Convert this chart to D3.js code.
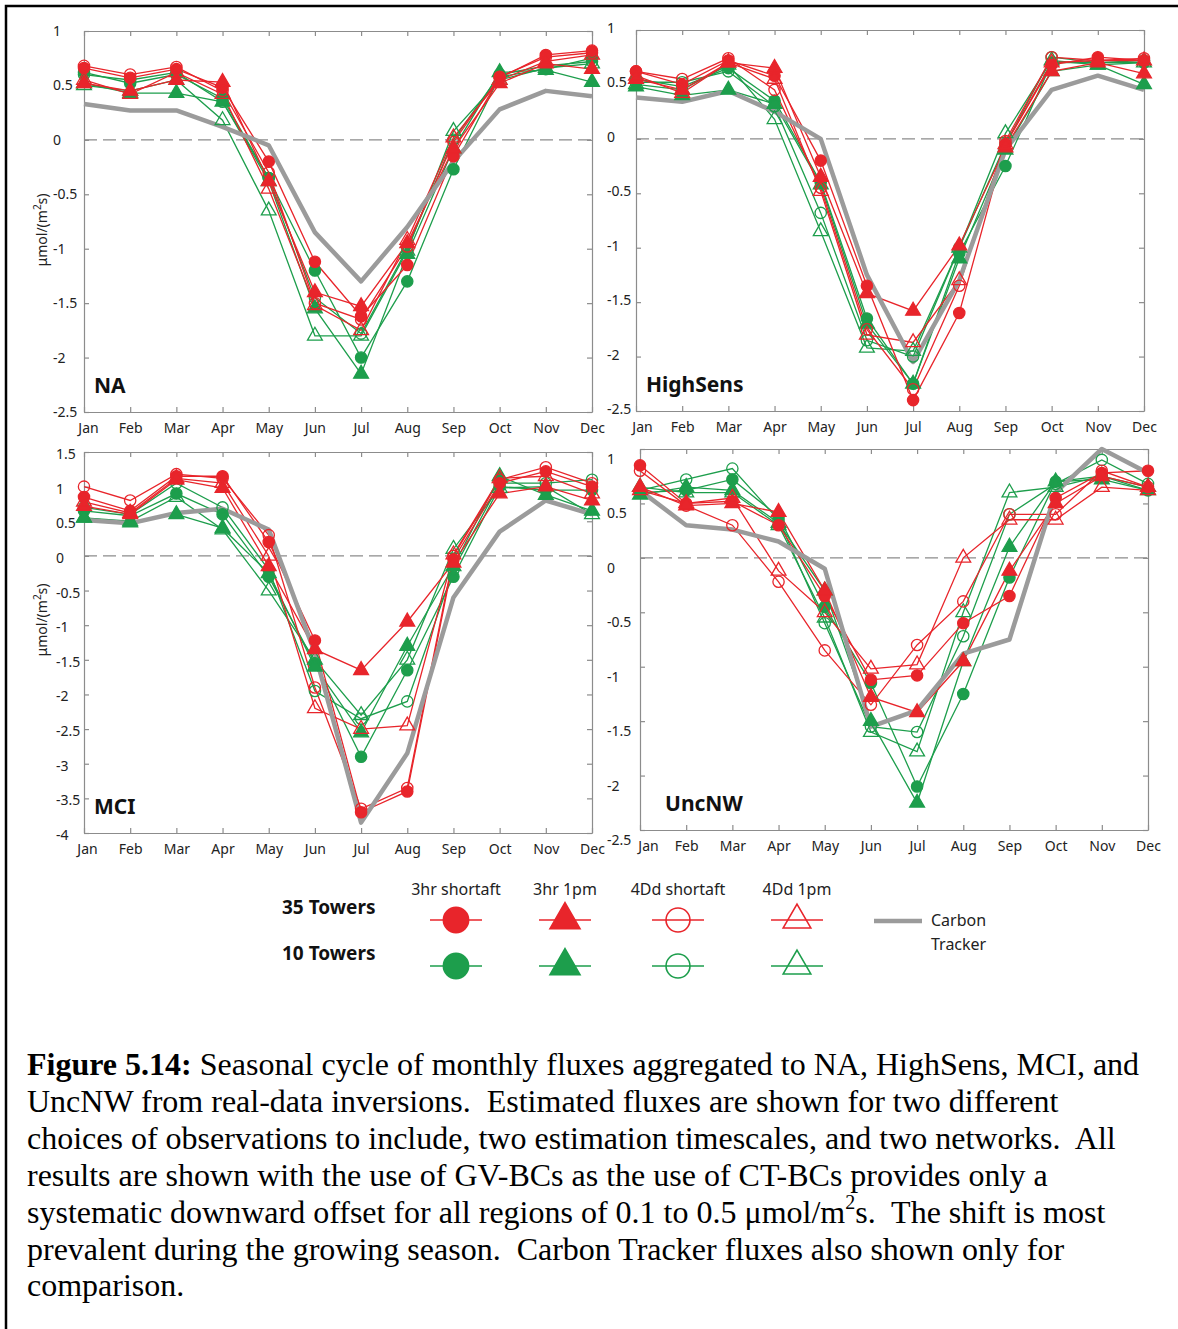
<!DOCTYPE html>
<meta charset="utf-8">
<style>
body { margin: 0; background: #fff; }
svg { display: block; }
.axis path, .axis line { stroke: #8c8c8c; stroke-width: 1.2px; }
.axis text { font: 14px "Noto Sans", sans-serif; fill: #222; }
.plabel { font: bold 21px "Noto Sans", sans-serif; fill: #111; }
.ytitle { font: 14px "Noto Sans", sans-serif; fill: #222; }
.leg { font: 16px "Noto Sans", sans-serif; fill: #222; }
.legb { font: bold 19px "Noto Sans", sans-serif; fill: #111; }
.cap { font: 32px "Liberation Serif", "Times New Roman", serif; fill: #000; }
</style>
<svg width="1178" height="1329"></svg>
<script src="https://d3js.org/d3.v7.min.js"></script>
<script>

var months = ["Jan","Feb","Mar","Apr","May","Jun","Jul","Aug","Sep","Oct","Nov","Dec"];
var methods = ["3hr shortaft","3hr 1pm","4Dd shortaft","4Dd 1pm"];
var networks = ["35 Towers","10 Towers"];

// NA
var na35_3hrShort = [0.66,0.57,0.65,0.48,-0.20,-1.12,-1.62,-1.15,-0.15,0.57,0.78,0.82];
var na35_3hr1pm   = [0.52,0.45,0.55,0.53,-0.38,-1.40,-1.53,-0.95,-0.08,0.52,0.70,0.65];
var na35_4DdShort = [0.68,0.60,0.67,0.45,-0.30,-1.50,-1.65,-0.98,-0.02,0.58,0.76,0.80];
var na35_4Dd1pm   = [0.55,0.42,0.62,0.42,-0.45,-1.52,-1.75,-0.92,0.02,0.55,0.72,0.78];
var na10_3hrShort = [0.62,0.52,0.60,0.38,-0.35,-1.20,-2.00,-1.30,-0.27,0.58,0.65,0.75];
var na10_3hr1pm   = [0.52,0.43,0.43,0.35,-0.38,-1.55,-2.15,-1.05,-0.08,0.62,0.64,0.53];
var na10_4DdShort = [0.60,0.55,0.62,0.35,-0.35,-1.45,-1.78,-1.00,0.00,0.60,0.68,0.72];
var na10_4Dd1pm   = [0.50,0.45,0.55,0.18,-0.65,-1.80,-1.80,-1.02,0.08,0.55,0.66,0.70];
var naCT          = [0.33,0.27,0.27,0.12,-0.05,-0.85,-1.30,-0.80,-0.20,0.28,0.45,0.40];

// HighSens
var hs35_3hrShort = [0.62,0.50,0.72,0.58,-0.20,-1.35,-2.40,-1.60,-0.05,0.68,0.75,0.72];
var hs35_3hr1pm   = [0.55,0.45,0.70,0.65,-0.35,-1.42,-1.58,-0.98,-0.08,0.62,0.70,0.60];
var hs35_4DdShort = [0.62,0.55,0.74,0.45,-0.45,-1.75,-2.30,-1.35,-0.02,0.75,0.72,0.74];
var hs35_4Dd1pm   = [0.58,0.42,0.70,0.55,-0.48,-1.80,-1.87,-1.30,-0.05,0.70,0.72,0.72];
var hs10_3hrShort = [0.55,0.48,0.65,0.35,-0.40,-1.65,-2.25,-1.05,-0.25,0.70,0.70,0.70];
var hs10_3hr1pm   = [0.48,0.40,0.45,0.32,-0.42,-1.70,-2.25,-1.10,-0.10,0.62,0.68,0.50];
var hs10_4DdShort = [0.52,0.52,0.62,0.30,-0.68,-1.85,-2.00,-1.00,-0.05,0.75,0.70,0.72];
var hs10_4Dd1pm   = [0.50,0.45,0.68,0.18,-0.85,-1.92,-1.95,-1.00,0.05,0.72,0.68,0.70];
var hsCT          = [0.38,0.34,0.44,0.25,0.00,-1.25,-2.05,-1.30,-0.10,0.45,0.58,0.45];

// MCI
var mci35_3hrShort = [0.85,0.65,1.15,1.15,0.20,-1.22,-3.70,-3.40,-0.05,1.05,1.22,1.00];
var mci35_3hr1pm   = [0.72,0.60,1.10,0.98,-0.15,-1.35,-1.65,-0.95,-0.10,0.90,1.00,0.80];
var mci35_4DdShort = [1.00,0.80,1.18,1.12,0.30,-1.90,-3.65,-3.35,0.00,1.10,1.28,1.05];
var mci35_4Dd1pm   = [0.78,0.62,1.12,1.05,0.00,-2.20,-2.50,-2.45,0.02,1.12,1.15,0.90];
var mci10_3hrShort = [0.65,0.58,0.90,0.60,-0.30,-1.55,-2.90,-1.65,-0.30,1.00,0.95,0.95];
var mci10_3hr1pm   = [0.55,0.48,0.60,0.40,-0.25,-1.60,-2.55,-1.30,-0.15,1.15,0.88,0.65];
var mci10_4DdShort = [0.70,0.60,1.05,0.70,-0.20,-1.95,-2.35,-2.10,-0.20,1.05,1.05,1.10];
var mci10_4Dd1pm   = [0.55,0.50,0.85,0.38,-0.50,-1.50,-2.30,-1.50,0.10,0.98,1.00,0.60];
var mciCT          = [0.52,0.47,0.62,0.68,0.38,-1.40,-3.85,-2.85,-0.60,0.35,0.80,0.60];

// UncNW
var unc35_3hrShort = [0.85,0.50,0.52,0.30,-0.35,-1.12,-1.08,-0.60,-0.35,0.55,0.78,0.80];
var unc35_3hr1pm   = [0.65,0.48,0.50,0.42,-0.30,-1.28,-1.42,-0.95,-0.12,0.50,0.75,0.65];
var unc35_4DdShort = [0.80,0.48,0.30,-0.22,-0.85,-1.35,-0.80,-0.40,0.40,0.40,0.80,0.65];
var unc35_4Dd1pm   = [0.62,0.50,0.55,-0.12,-0.50,-1.02,-0.98,0.00,0.35,0.35,0.65,0.62];
var unc10_3hrShort = [0.60,0.62,0.72,0.38,-0.45,-1.15,-2.10,-1.25,-0.18,0.70,0.75,0.62];
var unc10_3hr1pm   = [0.58,0.65,0.62,0.32,-0.30,-1.50,-2.25,-0.95,0.10,0.70,0.72,0.62];
var unc10_4DdShort = [0.62,0.72,0.82,0.35,-0.60,-1.55,-1.60,-0.72,0.40,0.68,0.90,0.68];
var unc10_4Dd1pm   = [0.65,0.60,0.60,0.30,-0.55,-1.60,-1.78,-0.50,0.60,0.65,0.75,0.65];
var uncCT          = [0.62,0.30,0.26,0.15,-0.10,-1.55,-1.40,-0.88,-0.75,0.60,1.00,0.78];

var red = "#e8252b", green = "#1d9e4c", gray = "#9b9b9b";
var netColor = [red, green];
var shapes = [d3.symbolCircle, d3.symbolTriangle, d3.symbolCircle, d3.symbolTriangle];
var filled = [true, true, false, false];

var panels = [
  {name: "NA", l: 84, r: 592, t: 31, b: 412, domain: [-2.5, 1], nameX: 10, labelX: -31, labelDy: 0, janDx: 4, title: 230,
   s35: [na35_3hrShort, na35_3hr1pm, na35_4DdShort, na35_4Dd1pm],
   s10: [na10_3hrShort, na10_3hr1pm, na10_4DdShort, na10_4Dd1pm], ct: naCT},
  {name: "HighSens", l: 636, r: 1144, t: 30, b: 411, domain: [-2.5, 1], nameX: 10, labelX: -29, labelDy: -2, janDx: 6,
   s35: [hs35_3hrShort, hs35_3hr1pm, hs35_4DdShort, hs35_4Dd1pm],
   s10: [hs10_3hrShort, hs10_3hr1pm, hs10_4DdShort, hs10_4Dd1pm], ct: hsCT},
  {name: "MCI", l: 84, r: 592, t: 452, b: 833, domain: [-4, 1.5], nameX: 10, labelX: -28, labelDy: 2, janDx: 3, title: 620,
   s35: [mci35_3hrShort, mci35_3hr1pm, mci35_4DdShort, mci35_4Dd1pm],
   s10: [mci10_3hrShort, mci10_3hr1pm, mci10_4DdShort, mci10_4Dd1pm], ct: mciCT},
  {name: "UncNW", l: 640, r: 1148, t: 449, b: 830, domain: [-2.5, 1], nameX: 25, labelX: -33, labelDy: 10, janDx: 8,
   s35: [unc35_3hrShort, unc35_3hr1pm, unc35_4DdShort, unc35_4Dd1pm],
   s10: [unc10_3hrShort, unc10_3hr1pm, unc10_4DdShort, unc10_4Dd1pm], ct: uncCT}
];

var svg = d3.select("svg");

// figure frame (top and left edge)
svg.append("path").attr("d", "M6,1329V6H1178").attr("fill", "none")
  .attr("stroke", "#000").attr("stroke-width", 2.5);

panels.forEach(function(p) {
  var g = svg.append("g");
  var x = d3.scalePoint().domain(months).range([p.l, p.r]);
  var y = d3.scaleLinear().domain(p.domain).range([p.b, p.t]);
  var yticks = d3.range(p.domain[0], p.domain[1] + 0.01, 0.5);

  g.append("g").attr("class", "axis").attr("transform", "translate(0," + p.b + ")")
    .call(d3.axisBottom(x).tickSizeInner(-5).tickSizeOuter(0).tickPadding(11))
    .selectAll("text").filter(function(d) { return d === "Jan"; }).attr("x", p.janDx);
  g.append("g").attr("class", "axis").attr("transform", "translate(0," + p.t + ")")
    .call(d3.axisTop(x).tickSizeInner(-5).tickSizeOuter(0).tickFormat(""));
  g.append("g").attr("class", "axis").attr("transform", "translate(" + p.r + ",0)")
    .call(d3.axisRight(y).tickValues(yticks).tickSizeInner(-5).tickSizeOuter(0).tickFormat(""));
  g.append("g").attr("class", "axis").attr("transform", "translate(" + p.l + ",0)")
    .call(d3.axisLeft(y).tickValues(yticks).tickSizeInner(-5).tickSizeOuter(0)
      .tickFormat(function(d) { return String(d); }))
    .selectAll("text").attr("x", p.labelX).attr("y", p.labelDy).attr("text-anchor", "start");

  // zero line
  g.append("line").attr("x1", p.l).attr("x2", p.r).attr("y1", y(0)).attr("y2", y(0))
    .attr("stroke", "#8c8c8c").attr("stroke-width", 1.3).attr("stroke-dasharray", "13,6");

  var line = d3.line().x(function(d, i) { return x(months[i]); }).y(function(d) { return y(d); });

  var all = [];
  p.s10.forEach(function(v, k) { all.push({vals: v, color: green, k: k}); });
  p.s35.forEach(function(v, k) { all.push({vals: v, color: red, k: k}); });

  all.forEach(function(s) {
    g.append("path").datum(s.vals).attr("d", line)
      .attr("fill", "none").attr("stroke", s.color).attr("stroke-width", 1.3);
  });

  g.append("path").datum(p.ct).attr("d", line)
    .attr("fill", "none").attr("stroke", gray).attr("stroke-width", 4.5)
    .attr("stroke-linejoin", "round");

  all.forEach(function(s) {
    var sym = d3.symbol().type(shapes[s.k]).size(shapes[s.k] === d3.symbolCircle ? 100 : 95);
    g.selectAll(null).data(s.vals).enter().append("path")
      .attr("d", sym)
      .attr("transform", function(d, i) { return "translate(" + x(months[i]) + "," + y(d) + ")"; })
      .attr("fill", filled[s.k] ? s.color : "none")
      .attr("stroke", s.color).attr("stroke-width", 1.3);
  });

  g.append("text").attr("class", "plabel").attr("x", p.l + p.nameX).attr("y", p.b - 19).text(p.name);

  if (p.title) {
    var t = svg.append("text").attr("class", "ytitle")
      .attr("transform", "translate(47," + p.title + ") rotate(-90)")
      .attr("text-anchor", "middle");
    t.append("tspan").text("\u03bcmol/(m");
    t.append("tspan").attr("dy", -6).attr("font-size", 10).text("2");
    t.append("tspan").attr("dy", 6).text("s)");
  }
});

// legend
var colX = [456, 565, 678, 797], rowY = [920, 966];
var lg = svg.append("g");
networks.forEach(function(n, r) {
  lg.append("text").attr("class", "legb").attr("x", 282).attr("y", rowY[r] - 6).text(n);
});
methods.forEach(function(m, k) {
  lg.append("text").attr("class", "leg").attr("x", colX[k]).attr("y", 895)
    .attr("text-anchor", "middle").text(m);
  networks.forEach(function(n, r) {
    var c = netColor[r];
    lg.append("line").attr("x1", colX[k] - 26).attr("x2", colX[k] + 26)
      .attr("y1", rowY[r]).attr("y2", rowY[r]).attr("stroke", c).attr("stroke-width", 1.6);
    var sz = shapes[k] === d3.symbolCircle ? (filled[k] ? 500 : 450) : (filled[k] ? 390 : 330);
    lg.append("path").attr("d", d3.symbol().type(shapes[k]).size(sz))
      .attr("transform", "translate(" + colX[k] + "," + rowY[r] + ")")
      .attr("fill", filled[k] ? c : "none").attr("stroke", c).attr("stroke-width", 1.6);
  });
});
lg.append("line").attr("x1", 874).attr("x2", 922).attr("y1", 921).attr("y2", 921)
  .attr("stroke", gray).attr("stroke-width", 4.5);
lg.append("text").attr("class", "leg").attr("x", 931).attr("y", 926).text("Carbon");
lg.append("text").attr("class", "leg").attr("x", 931).attr("y", 950).text("Tracker");

// caption
var capLines = [
  [{b: true, t: "Figure 5.14:"}, {t: " Seasonal cycle of monthly fluxes aggregated to NA, HighSens, MCI, and"}],
  [{t: "UncNW from real-data inversions.  Estimated fluxes are shown for two different"}],
  [{t: "choices of observations to include, two estimation timescales, and two networks.  All"}],
  [{t: "results are shown with the use of GV-BCs as the use of CT-BCs provides only a"}],
  [{t: "systematic downward offset for all regions of 0.1 to 0.5 \u03bcmol/m"}, {sup: true, t: "2"}, {after: true, t: "s.  The shift is most"}],
  [{t: "prevalent during the growing season.  Carbon Tracker fluxes also shown only for"}],
  [{t: "comparison."}]
];
capLines.forEach(function(parts, i) {
  var t = svg.append("text").attr("class", "cap").attr("x", 27).attr("y", 1075 + i * 36.9)
    .attr("xml:space", "preserve").style("white-space", "pre");
  parts.forEach(function(pt) {
    var ts = t.append("tspan").text(pt.t);
    if (pt.b) ts.attr("font-weight", "bold");
    if (pt.sup) ts.attr("dy", -14).attr("font-size", 20);
    if (pt.after) ts.attr("dy", 14);
  });
});
</script>
